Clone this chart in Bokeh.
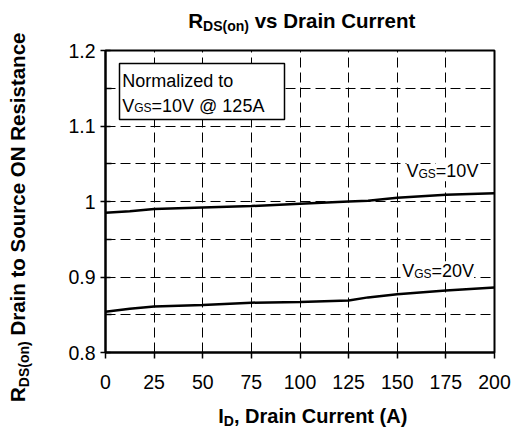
import math
from bokeh.plotting import figure
from bokeh.models import Range1d, FixedTicker, Label, BoxAnnotation, Div
from bokeh.layouts import row, column
from bokeh.embed import file_html
from bokeh.resources import INLINE

# ---- data ----
current_10v = [0, 12.5, 25, 50, 75, 100, 125, 135, 150, 175, 200]
rds_10v = [0.985, 0.987, 0.990, 0.992, 0.994, 0.997, 1.000, 1.001, 1.005, 1.009, 1.011]
current_20v = [0, 12.5, 25, 50, 75, 100, 125, 135, 150, 175, 200]
rds_20v = [0.854, 0.858, 0.861, 0.863, 0.866, 0.867, 0.869, 0.873, 0.877, 0.882, 0.886]

x_ticks = [0, 25, 50, 75, 100, 125, 150, 175, 200]
x_tick_labels = ["0", "25", "50", "75", "100", "125", "150", "175", "200"]
y_ticks = [0.8, 0.9, 1.0, 1.1, 1.2]
y_tick_labels = ["0.8", "0.9", "1", "1.1", "1.2"]
y_minor = [0.85, 0.95, 1.05, 1.15]
x_grid = [25, 50, 75, 100, 125, 150, 175]
y_grid = [0.85, 0.9, 0.95, 1.0, 1.05, 1.1, 1.15]

FONT = "Liberation Sans"
FW, FH = 389, 302
X0, X1, Y0, Y1 = 0, 200, 0.8, 1.2

p = figure(frame_width=FW, frame_height=FH,
           min_border_left=57, min_border_right=19, min_border_top=11, min_border_bottom=44,
           x_range=Range1d(X0, X1), y_range=Range1d(Y0, Y1),
           output_backend="svg", toolbar_location=None, title=None, margin=0)
p.background_fill_color = "white"
p.border_fill_color = "white"
p.outline_line_color = "black"
p.outline_line_width = 2

# axes
xa = p.xaxis[0]
xa.ticker = FixedTicker(ticks=x_ticks)
xa.major_label_overrides = dict(zip(x_ticks, x_tick_labels))
xa.major_tick_out = 6
xa.major_tick_in = 0
xa.minor_tick_out = 0
xa.minor_tick_in = 0
xa.major_label_standoff = 16
ya = p.yaxis[0]
ya.ticker = FixedTicker(ticks=y_ticks, minor_ticks=y_minor)
ya.major_label_overrides = dict(zip(y_ticks, y_tick_labels))
ya.major_tick_out = 5
ya.major_tick_in = 5
ya.minor_tick_out = 0
ya.minor_tick_in = 6
ya.major_label_standoff = 5
for ax in (xa, ya):
    ax.axis_line_color = "black"
    ax.axis_line_width = 2
    ax.major_tick_line_color = "black"
    ax.major_tick_line_width = 1.5
    ax.minor_tick_line_color = "black"
    ax.minor_tick_line_width = 1.5
    ax.major_label_text_font = FONT
    ax.major_label_text_font_size = "19.5px"
    ax.major_label_text_color = "black"

# grid
p.xgrid.ticker = FixedTicker(ticks=x_grid)
p.ygrid.ticker = FixedTicker(ticks=y_grid)
for g in (p.xgrid[0], p.ygrid[0]):
    g.grid_line_color = "black"
    g.grid_line_width = 1
    g.grid_line_dash = "10 5"

# curves
p.line(current_10v, rds_10v, line_color="black", line_width=2.5)
p.line(current_20v, rds_20v, line_color="black", line_width=2.5)

# ---- in-frame texts (Arial / Liberation Sans metrics) ----
REG = {" ": .278, "=": .584, "@": 1.015, "A": .667, "V": .667, "G": .778, "S": .667,
       "N": .722, "o": .556, "r": .333, "m": .833, "a": .556, "l": .222, "i": .222,
       "z": .5, "e": .556, "d": .556, "t": .278}


def text_width(s, size):
    return sum(REG.get(c, .556) for c in s) * size


def add_runs(parts, x_off, y_off, bg=None):
    pos = 0.0
    for text, size, drop in parts:
        kw = dict(x=X0, y=Y1, text=text, text_font=FONT, text_font_size=f"{size}px",
                  text_color="black", text_baseline="alphabetic", text_align="left",
                  x_offset=x_off + pos, y_offset=y_off - drop)
        if bg:
            kw.update(background_fill_color=bg)
        p.add_layout(Label(**kw))
        pos += text_width(text, size)


def px_to_x(px):
    return X0 + px / FW * (X1 - X0)


def px_to_y(px):
    return Y1 - px / FH * (Y1 - Y0)


# note box
p.add_layout(BoxAnnotation(left=px_to_x(14), right=px_to_x(179),
                           top=px_to_y(13), bottom=px_to_y(69),
                           fill_color="white", fill_alpha=1.0,
                           line_color="black", line_alpha=1.0, line_width=1.5))
add_runs([("Normalized to", 18, 0)], 16.7, -30)
add_runs([("V", 18, 0), ("GS", 12, 2.5), ("=10V @ 125A", 18, 0)], 16.7, -55)

# curve labels
add_runs([("V", 18, 0), ("GS", 12, 2.5), ("=10V", 18, 0)], 301, -120.7, bg="white")
add_runs([("V", 18, 0), ("GS", 12, 2.5), ("=20V", 18, 0)], 296.7, -220.7, bg="white")

# ---- titles (HTML with real subscripts) ----
def base(size):
    # baseline position inside a line box with line-height:1 (Liberation Sans)
    return 0.8465 * size


def span(main, sub, rest, size, sub_size, drop, left, top, rotate=False):
    tr = "transform-origin:0 0;transform:rotate(-90deg);" if rotate else ""
    return (f'<span style="position:absolute;left:{left:.1f}px;top:{top:.1f}px;{tr}'
            f'font-family:\'{FONT}\';font-weight:bold;font-size:{size}px;line-height:1;'
            f'white-space:pre;color:black;">{main}'
            f'<span style="font-size:{sub_size}px;position:relative;top:{drop}px;">{sub}</span>'
            f'{rest}</span>')


COLW = 465
title_div = Div(width=COLW, height=39, margin=0,
                text=f'<div style="position:relative;width:{COLW}px;height:39px;">'
                     + span("R", "DS(on)", " vs Drain Current", 20.5, 14, 3.5, 140.3, 28.3 - base(20.5))
                     + '</div>')
xlab_div = Div(width=COLW, height=40, margin=0,
               text=f'<div style="position:relative;width:{COLW}px;height:40px;">'
                    + span("I", "D", ", Drain Current (A)", 20, 14, 3, 170.3, 27.3 - base(20))
                    + '</div>')
ylab_div = Div(width=48, height=436, margin=0,
               text='<div style="position:relative;width:48px;height:436px;">'
                    + span("R", "DS(on)", " Drain to Source ON Resistance", 20.5, 14, 4,
                           25 - base(20.5), 402, rotate=True)
                    + '</div>')

layout = row(column(ylab_div, margin=0), column(title_div, p, xlab_div, margin=0), margin=0)

open("out.html", "w").write(file_html(layout, INLINE))
